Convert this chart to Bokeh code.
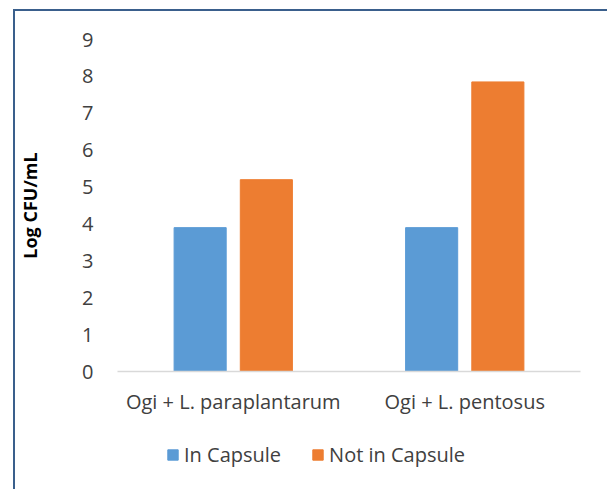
from bokeh.plotting import figure
from bokeh.models import FactorRange, Legend, LegendItem, ColumnDataSource, Range1d
from bokeh.layouts import column
from bokeh.transform import dodge
from bokeh.embed import file_html
from bokeh.resources import INLINE

categories = ["Ogi + L. paraplantarum", "Ogi + L. pentosus"]
in_capsule = [3.9, 3.9]
not_in_capsule = [5.2, 7.85]
series_names = ["In Capsule", "Not in Capsule"]
series_colors = ["#5B9BD5", "#ED7D31"]
y_ticks = [0, 1, 2, 3, 4, 5, 6, 7, 8, 9]

src = ColumnDataSource(dict(cat=categories, a=in_capsule, b=not_in_capsule))

FONT = "Open Sans"
p = figure(width=592, height=421, x_range=FactorRange(*categories, range_padding=0),
           y_range=(0, 9), output_backend="svg", toolbar_location=None,
           min_border_left=102, min_border_right=27, min_border_top=28, min_border_bottom=61)
p.outline_line_color = None
p.xgrid.grid_line_color = None
p.ygrid.grid_line_color = None

p.vbar(x=dodge("cat", -0.143, range=p.x_range), top="a", width=0.225, source=src,
       fill_color=series_colors[0], line_color=series_colors[0])
p.vbar(x=dodge("cat", 0.143, range=p.x_range), top="b", width=0.225, source=src,
       fill_color=series_colors[1], line_color=series_colors[1])

p.yaxis.ticker = y_ticks
p.yaxis.axis_line_color = None
p.yaxis.major_tick_line_color = None
p.yaxis.minor_tick_line_color = None
p.yaxis.major_label_text_font = FONT
p.yaxis.major_label_text_font_size = "20px"
p.yaxis.major_label_text_color = "#404040"
p.yaxis.major_label_standoff = 18
p.yaxis.axis_label = "Log CFU/mL"
p.yaxis.axis_label_text_font = FONT
p.yaxis.axis_label_text_font_style = "bold"
p.yaxis.axis_label_text_font_size = "18px"
p.yaxis.axis_label_text_color = "#000000"
p.yaxis.axis_label_standoff = 37

p.xaxis.axis_line_color = "#D9D9D9"
p.xaxis.axis_line_width = 1.5
p.xaxis.major_tick_line_color = None
p.xaxis.minor_tick_line_color = None
p.xaxis.major_label_text_font = FONT
p.xaxis.major_label_text_font_size = "20px"
p.xaxis.major_label_text_color = "#404040"
p.xaxis.major_label_standoff = 10

# legend strip below the chart (key glyphs have no data, only their style)
lf = figure(width=592, height=59, x_range=Range1d(0, 1), y_range=Range1d(0, 1),
            output_backend="svg", toolbar_location=None,
            min_border_left=0, min_border_right=0, min_border_top=0, min_border_bottom=0)
lf.axis.visible = False
lf.grid.visible = False
lf.outline_line_color = None
nan = float("nan")
empty = ColumnDataSource(dict(x=[nan], top=[nan]))
k1 = lf.vbar(x="x", top="top", width=0.1, source=empty,
             fill_color=series_colors[0], line_color=series_colors[0])
k2 = lf.vbar(x="x", top="top", width=0.1, source=empty,
             fill_color=series_colors[1], line_color=series_colors[1])
legend = Legend(items=[LegendItem(label=series_names[0], renderers=[k1], index=0),
                       LegendItem(label=series_names[1], renderers=[k2], index=0)],
                orientation="horizontal", location=(49, 23))
legend.label_text_font = FONT
legend.label_text_font_size = "20px"
legend.label_text_color = "#404040"
legend.glyph_width = 13
legend.glyph_height = 13
legend.label_standoff = 5
legend.spacing = 30
legend.border_line_color = None
legend.background_fill_alpha = 0
legend.margin = 0
legend.padding = 5
lf.add_layout(legend, "center")

layout = column(p, lf, spacing=0)
layout.margin = (9, 0, 0, 13)
layout.styles = {"border-top": "2px solid #3A5F8C", "border-left": "2px solid #3A5F8C"}

open("out.html", "w").write(file_html(layout, INLINE))
